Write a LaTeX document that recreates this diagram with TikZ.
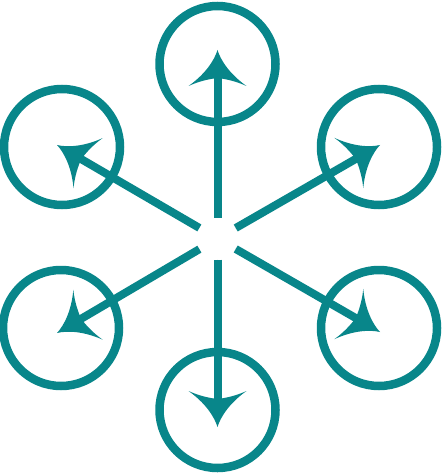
\documentclass[tikz,border=0pt]{standalone}
\usepackage{tikz}
\usetikzlibrary{arrows.meta}
\definecolor{teal}{RGB}{8,134,138}

% curved arrow head, tip at the origin
\pgfdeclarearrow{
  name = Petal,
  setup code = {
    \pgfarrowssettipend{0pt}
    \pgfarrowssetbackend{-36pt}
    \pgfarrowssetlineend{-20pt}
  },
  drawing code = {
    \pgfpathmoveto{\pgfpoint{0pt}{0pt}}
    \pgfpathcurveto{\pgfpoint{-10pt}{3pt}}{\pgfpoint{-24pt}{12pt}}{\pgfpoint{-36pt}{29pt}}
    \pgfpathcurveto{\pgfpoint{-31pt}{18pt}}{\pgfpoint{-29pt}{8pt}}{\pgfpoint{-28pt}{0pt}}
    \pgfpathcurveto{\pgfpoint{-29pt}{-8pt}}{\pgfpoint{-31pt}{-18pt}}{\pgfpoint{-36pt}{-29pt}}
    \pgfpathcurveto{\pgfpoint{-24pt}{-12pt}}{\pgfpoint{-10pt}{-3pt}}{\pgfpoint{0pt}{0pt}}
    \pgfpathclose
    \pgfusepathqfill
  }
}

\begin{document}
\begin{tikzpicture}[x=1pt,y=-1pt,
    ring/.style={draw=teal,line width=8.5pt,circle,inner sep=0pt,minimum size=116pt},
    spoke/.style={draw=teal,fill=teal,line width=8pt,-Petal,shorten <=21pt}]
            \useasboundingbox (0,0) rectangle (441,473);
            \begin{scope}
                \coordinate (hub) at (217.5,238.5);
                \node[ring] (top) at (217.5,64) {};
                \node[ring] (bot) at (217.5,410) {};
                \node[ring] (ul) at (62,147) {};
                \node[ring] (ur) at (379,147) {};
                \node[ring] (ll) at (61,328) {};
                \node[ring] (lr) at (379,328) {};
                \coordinate (toptip) at (217.5,50);
                \coordinate (bottip) at (217.5,427);
                \coordinate (ultip) at (57,145);
                \coordinate (urtip) at (380,145);
                \coordinate (lltip) at (57,333);
                \coordinate (lrtip) at (380,332);
                \draw[spoke] (hub) -- (toptip);
                \draw[spoke] (hub) -- (bottip);
                \draw[spoke] (hub) -- (ultip);
                \draw[spoke] (hub) -- (urtip);
                \draw[spoke] (hub) -- (lltip);
                \draw[spoke] (hub) -- (lrtip);
            \end{scope}
        \end{tikzpicture}
\end{document}
